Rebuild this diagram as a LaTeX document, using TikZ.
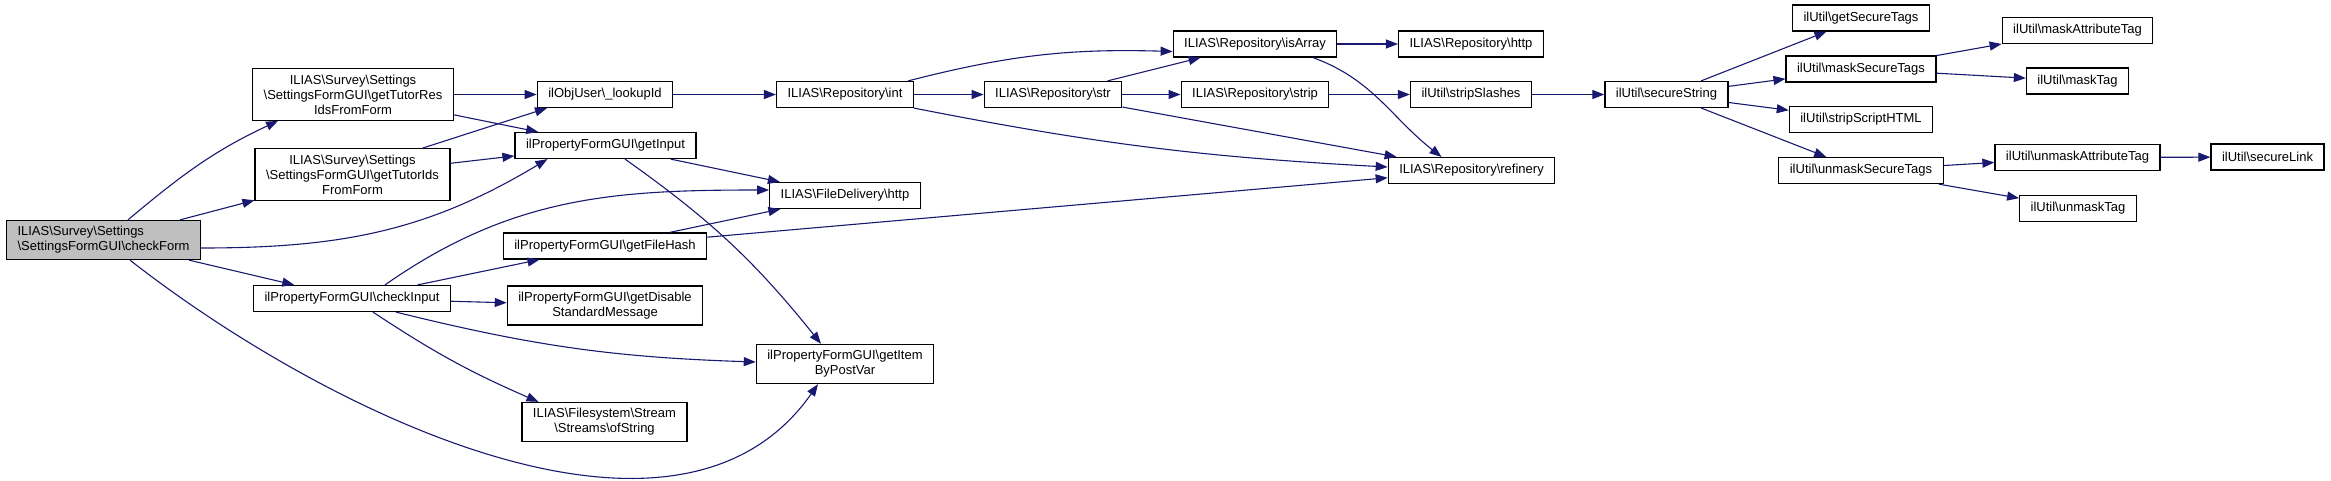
\documentclass[tikz,border=0pt]{standalone}
\usepackage{fontspec}
\setmainfont{Liberation Sans}
\usetikzlibrary{arrows.meta}
\definecolor{edgeblue}{RGB}{25,25,112}
\definecolor{rootgray}{RGB}{191,191,191}
\newcommand{\bsl}{\textbackslash}
\begin{document}
\begin{tikzpicture}
[x=1pt,y=-1pt,
 fnnode/.style={shape=rectangle,draw=black,line width=1.2pt,fill=white,%
   font=\fontsize{13}{15}\selectfont,align=center,inner xsep=11pt,inner ysep=6pt,minimum height=26pt},%
 rootnode/.style={fnnode,fill=rootgray,align=left},%
 calledge/.style={-{Triangle[length=12pt,width=9pt]},draw=edgeblue,line width=1.1pt}]
\useasboundingbox (0,0) rectangle (2331,480);
%% nodes or functions
\node (checkform) at (103.5,240) [rootnode] {ILIAS\bsl Survey\bsl Settings\\\bsl SettingsFormGUI\bsl checkForm};
\foreach \nodename/\x/\y/\txt in {
  tutorres/353/94.5/{ILIAS\bsl Survey\bsl Settings\\\bsl SettingsFormGUI\bsl getTutorRes\\IdsFromForm},
  tutorids/352.5/174.5/{ILIAS\bsl Survey\bsl Settings\\\bsl SettingsFormGUI\bsl getTutorIds\\FromForm},
  checkinput/352/298.5/{ilPropertyFormGUI\bsl checkInput},
  lookupid/605/94.5/{ilObjUser\bsl\_lookupId},
  getinput/605.5/145.5/{ilPropertyFormGUI\bsl getInput},
  getfilehash/605/246/{ilPropertyFormGUI\bsl getFileHash},
  getdisable/605/305.5/{ilPropertyFormGUI\bsl getDisable\\StandardMessage},
  ofstring/604.5/422/{ILIAS\bsl Filesystem\bsl Stream\\\bsl Streams\bsl ofString},
  fdhttp/845/195.5/{ILIAS\bsl FileDelivery\bsl http},
  getitem/845/364/{ilPropertyFormGUI\bsl getItem\\ByPostVar},
  int/845/94.5/{ILIAS\bsl Repository\bsl int},
  str/1053/94.5/{ILIAS\bsl Repository\bsl str},
  isarray/1255/44/{ILIAS\bsl Repository\bsl isArray},
  strip/1255/94.5/{ILIAS\bsl Repository\bsl strip},
  rhttp/1471/44/{ILIAS\bsl Repository\bsl http},
  stripslashes/1471/94.5/{ilUtil\bsl stripSlashes},
  refinery/1471.5/170.5/{ILIAS\bsl Repository\bsl refinery},
  securestring/1666.5/94.5/{ilUtil\bsl secureString},
  getsecuretags/1861/18/{ilUtil\bsl getSecureTags},
  masksecuretags/1861/69/{ilUtil\bsl maskSecureTags},
  stripscripthtml/1861/119.5/{ilUtil\bsl stripScriptHTML},
  unmasksecuretags/1861/170.5/{ilUtil\bsl unmaskSecureTags},
  maskattributetag/2077.5/30.5/{ilUtil\bsl maskAttributeTag},
  masktag/2077.5/81/{ilUtil\bsl maskTag},
  unmaskattributetag/2077.5/157.5/{ilUtil\bsl unmaskAttributeTag},
  unmasktag/2078/208.5/{ilUtil\bsl unmaskTag},
  securelink/2267.5/157/{ilUtil\bsl secureLink}} {
  \node (\nodename) at (\x,\y) [fnnode] {\txt};
}
%% calls or edges
\path
\foreach \startnode/\endnode in {checkform/tutorids, checkform/checkinput,
  tutorres/lookupid, tutorres/getinput, tutorids/getinput, lookupid/int,
  int/str, str/isarray, str/strip, str/refinery, isarray/rhttp,
  strip/stripslashes, stripslashes/securestring, securestring/getsecuretags,
  securestring/masksecuretags, securestring/stripscripthtml,
  securestring/unmasksecuretags, masksecuretags/maskattributetag,
  masksecuretags/masktag, unmasksecuretags/unmaskattributetag,
  unmasksecuretags/unmasktag, unmaskattributetag/securelink,
  getinput/fdhttp, checkinput/getfilehash, checkinput/getdisable,
  getfilehash/fdhttp, getfilehash/refinery} {
  (\startnode) edge[calledge] (\endnode)
}
([xshift=24.5pt]checkform.north) edge[calledge,out=40,in=205] ([xshift=26pt]tutorres.south west)
([yshift=-8pt]checkform.east) edge[calledge,out=0,in=211] ([xshift=33pt]getinput.south west)
([xshift=26.5pt]checkform.south) edge[calledge,out=-38,in=-125,looseness=0.9] ([xshift=-27pt]getitem.south)
([xshift=70pt]tutorids.north) edge[calledge] ([xshift=-58pt]lookupid.south)
([xshift=33pt]checkinput.north) edge[calledge,out=35,in=180] ([yshift=5.5pt]fdhttp.west)
([xshift=44pt]checkinput.south) edge[calledge,bend right=6] ([yshift=2pt]getitem.west)
([xshift=21pt]checkinput.south) edge[calledge,bend right=5] ([xshift=-66pt]ofstring.north)
([xshift=19.5pt]getinput.south) edge[calledge,bend left=8] ([xshift=-24pt]getitem.north)
([xshift=63pt]int.north) edge[calledge,bend left=8] ([yshift=-7.5pt]isarray.west)
(int.south east) edge[calledge,bend right=4] ([yshift=3.5pt]refinery.west)
([xshift=58pt]isarray.south) edge[calledge,out=-20,in=142] ([xshift=-30pt]refinery.north);
\end{tikzpicture}
\end{document}
